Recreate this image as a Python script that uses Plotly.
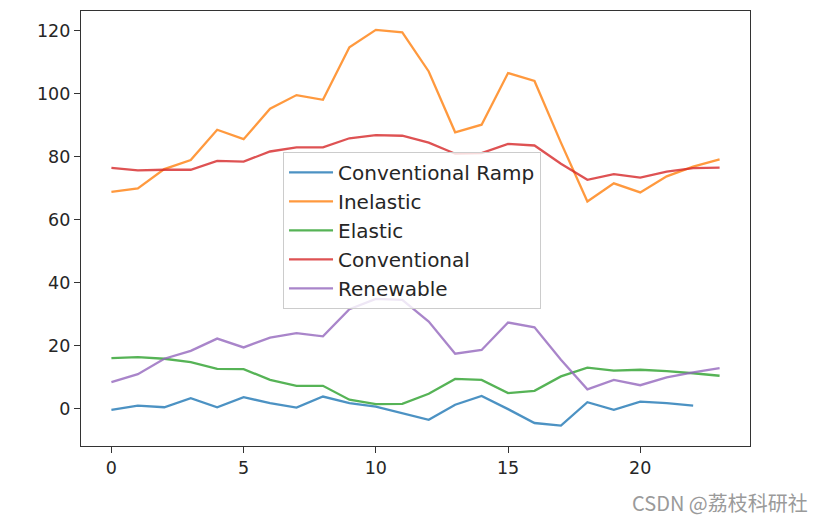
import plotly.graph_objects as go

hours = list(range(24))
conventional_ramp = [-0.3, 1.0, 0.5, 3.4, 0.5, 3.7, 1.8, 0.4, 3.9, 1.8, 0.7, -1.4,
                     -3.5, 1.3, 4.1, -0.1, -4.5, -5.3, 2.1, -0.3, 2.3, 1.8, 1.0]
inelastic = [68.9, 70.0, 76.1, 79.0, 88.6, 85.6, 95.3, 99.6, 98.1, 114.8, 120.3, 119.5,
             107.1, 87.8, 90.2, 106.6, 104.1, 84.5, 65.8, 71.6, 68.7, 73.8, 76.9, 79.2]
elastic = [16.1, 16.4, 15.9, 14.8, 12.7, 12.6, 9.2, 7.3, 7.3, 2.9, 1.5, 1.6,
           4.8, 9.5, 9.2, 5.0, 5.7, 10.3, 13.1, 12.1, 12.4, 12.0, 11.3, 10.5]
conventional = [76.5, 75.7, 75.9, 75.9, 78.7, 78.5, 81.7, 83.0, 83.0, 85.9, 86.9, 86.7,
                84.5, 81.0, 81.2, 84.1, 83.6, 77.8, 72.7, 74.5, 73.4, 75.3, 76.4, 76.6]
renewable = [8.5, 11.0, 15.9, 18.4, 22.3, 19.5, 22.6, 24.0, 23.0, 31.6, 34.9, 34.6,
             27.7, 17.5, 18.7, 27.4, 25.9, 15.6, 6.2, 9.2, 7.5, 10.0, 11.6, 12.9]

series = [
    ("Conventional Ramp", conventional_ramp, "rgba(31,119,180,0.8)"),
    ("Inelastic", inelastic, "rgba(255,127,14,0.8)"),
    ("Elastic", elastic, "rgba(44,160,44,0.8)"),
    ("Conventional", conventional, "rgba(214,39,40,0.8)"),
    ("Renewable", renewable, "rgba(148,103,189,0.8)"),
]

x_ticks = [0, 5, 10, 15, 20]
y_ticks = [0, 20, 40, 60, 80, 100, 120]

fig = go.Figure()
for name, vals, color in series:
    fig.add_trace(go.Scatter(x=hours[:len(vals)], y=vals, mode="lines", name=name,
                             line=dict(color=color, width=2.3)))

axis_common = dict(showgrid=False, zeroline=False, showline=True, mirror=True,
                   linecolor="#333333", linewidth=1.4, ticks="outside", ticklen=6,
                   tickwidth=1.4, tickcolor="#333333",
                   tickfont=dict(family="DejaVu Sans", size=17.5, color="#262626"))

fig.update_layout(
    width=809, height=514,
    margin=dict(l=73, r=67, t=3, b=76),
    paper_bgcolor="white", plot_bgcolor="white",
    font=dict(family="DejaVu Sans", size=17.5, color="#262626"),
    xaxis=dict(range=[-1.15, 24.15], tickvals=x_ticks, **axis_common),
    yaxis=dict(range=[-11.8, 126.3], tickvals=y_ticks, **axis_common),
    legend=dict(x=0.302, y=0.676, xanchor="left", yanchor="top",
                bgcolor="rgba(255,255,255,0.8)", bordercolor="#cccccc", borderwidth=1,
                font=dict(family="DejaVu Sans", size=20, color="#262626"),
                itemwidth=44, tracegroupgap=0),
    annotations=[dict(text="CSDN @荔枝科研社", xref="paper", yref="paper",
                      x=(802 - 73) / 669, y=(438 - 494) / 435,
                      xanchor="right", yanchor="middle", showarrow=False,
                      font=dict(family="Noto Sans CJK SC", size=20, color="#9a9a9a"))],
)

fig.write_html("out.html")
